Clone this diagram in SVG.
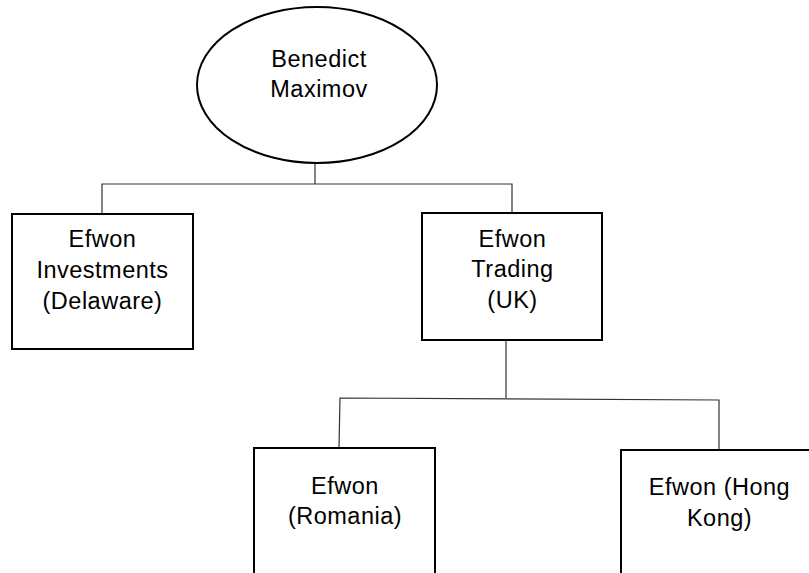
<svg xmlns="http://www.w3.org/2000/svg" width="809" height="573" viewBox="0 0 809 573">
<style>
.box{fill:#fff;stroke:#000;stroke-width:2}
.t{font-family:"Liberation Sans",Arial,sans-serif;font-size:23.5px;letter-spacing:0.5px;fill:#000;text-anchor:middle}
.c{fill:none;stroke:#333;stroke-width:1.2}
</style>
<rect width="809" height="573" fill="#fff"/>
<g id="connectors">
<polyline class="c" points="315,163 315,184"/>
<polyline class="c" points="102,214 102,184 512,184 512,213"/>
<polyline class="c" points="506,341 506,398"/>
<polyline class="c" points="339,448 340,398 719,400 719,450"/>
</g>
<g id="benedict">
<ellipse class="box" cx="317" cy="85" rx="120" ry="78"/>
<text class="t" x="319" y="66.5">Benedict</text>
<text class="t" x="319" y="97">Maximov</text>
</g>
<g id="delaware">
<rect class="box" x="12" y="214" width="181" height="135"/>
<text class="t" x="102.5" y="247">Efwon</text>
<text class="t" x="102.5" y="278">Investments</text>
<text class="t" x="102.5" y="309">(Delaware)</text>
</g>
<g id="uk">
<rect class="box" x="422" y="213" width="180" height="127"/>
<text class="t" x="512.5" y="247">Efwon</text>
<text class="t" x="512.5" y="277">Trading</text>
<text class="t" x="512.5" y="308">(UK)</text>
</g>
<g id="romania">
<rect class="box" x="254" y="448" width="181" height="140"/>
<text class="t" x="345" y="494">Efwon</text>
<text class="t" x="345" y="524">(Romania)</text>
</g>
<g id="hongkong">
<rect class="box" x="621" y="450" width="200" height="140"/>
<text class="t" x="719.5" y="495">Efwon (Hong</text>
<text class="t" x="719.5" y="526">Kong)</text>
</g>
</svg>
